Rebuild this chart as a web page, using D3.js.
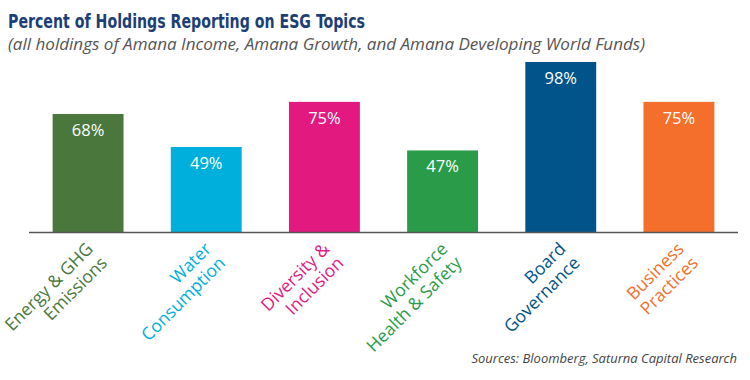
<!DOCTYPE html>
<html><head><meta charset="utf-8">
<script src="https://cdn.jsdelivr.net/npm/d3@7"></script>
<style>body{margin:0;background:#fff}svg{display:block}</style>
</head><body>
<svg id="c" width="750" height="380"></svg>
<script>
const categories = [["Energy & GHG","Emissions"],["Water","Consumption"],["Diversity &","Inclusion"],["Workforce","Health & Safety"],["Board","Governance"],["Business","Practices"]];
const values = [68, 49, 75, 47, 98, 75];
const colors = ["#4a773c","#00afdb","#e2197f","#2a9b48","#00548a","#f36f2b"];
const valueLabels = ["68%","49%","75%","47%","98%","75%"];

const svg = d3.select("#c");
const x = d3.scaleBand().domain(d3.range(values.length)).range([29, 738]).paddingInner(0.4).paddingOuter(0.2);
const y = d3.scaleLinear().domain([0, 100]).range([232, 58.5]);

svg.append("text").attr("x", 8).attr("y", 28).attr("textLength", 357).attr("lengthAdjust","spacingAndGlyphs")
  .style("font-family","'DejaVu Sans Condensed','DejaVu Sans',sans-serif").style("font-weight","bold")
  .style("font-size","20px").attr("fill","#1c3f77").text("Percent of Holdings Reporting on ESG Topics");
svg.append("text").attr("x", 8).attr("y", 50).attr("textLength", 637).attr("lengthAdjust","spacingAndGlyphs")
  .style("font-family","'Open Sans',sans-serif").style("font-style","italic")
  .style("font-size","16px").attr("fill","#555").text("(all holdings of Amana Income, Amana Growth, and Amana Developing World Funds)");

svg.selectAll("rect.bar").data(values).join("rect").attr("class","bar")
  .attr("x",(d,i)=>x(i)).attr("width",x.bandwidth())
  .attr("y",d=>y(d)).attr("height",d=>y(0)-y(d)).attr("fill",(d,i)=>colors[i]);

svg.selectAll("text.val").data(values).join("text").attr("class","val")
  .attr("x",(d,i)=>x(i)+x.bandwidth()/2).attr("y",d=>y(d)+22)
  .attr("text-anchor","middle").attr("fill","#fff")
  .style("font-family","'Open Sans',sans-serif").style("font-size","16.5px")
  .text((d,i)=>valueLabels[i]);

svg.append("line").attr("x1",29).attr("x2",738).attr("y1",y(0)+0.5).attr("y2",y(0)+0.5)
  .attr("stroke","#555").attr("stroke-width",1.5);

const lab = svg.selectAll("g.lab").data(categories).join("g").attr("class","lab")
  .attr("transform",(d,i)=>`translate(${x(i)+x.bandwidth()/2+6},${y(0)+18}) rotate(-45)`);
lab.each(function(d,i){
  const t = d3.select(this).append("text").attr("text-anchor","end").attr("fill",colors[i])
    .style("font-family","'Open Sans',sans-serif").style("font-size","17.5px");
  d.forEach((line,k)=>{
    t.append("tspan").attr("x",0).attr("dy",k===0?0:20).text(line);
  });
});

svg.append("text").attr("x",737).attr("y",363).attr("text-anchor","end")
  .style("font-family","'Open Sans',sans-serif").style("font-style","italic").style("font-size","13px")
  .attr("fill","#444").text("Sources: Bloomberg, Saturna Capital Research");
</script>
</body></html>
